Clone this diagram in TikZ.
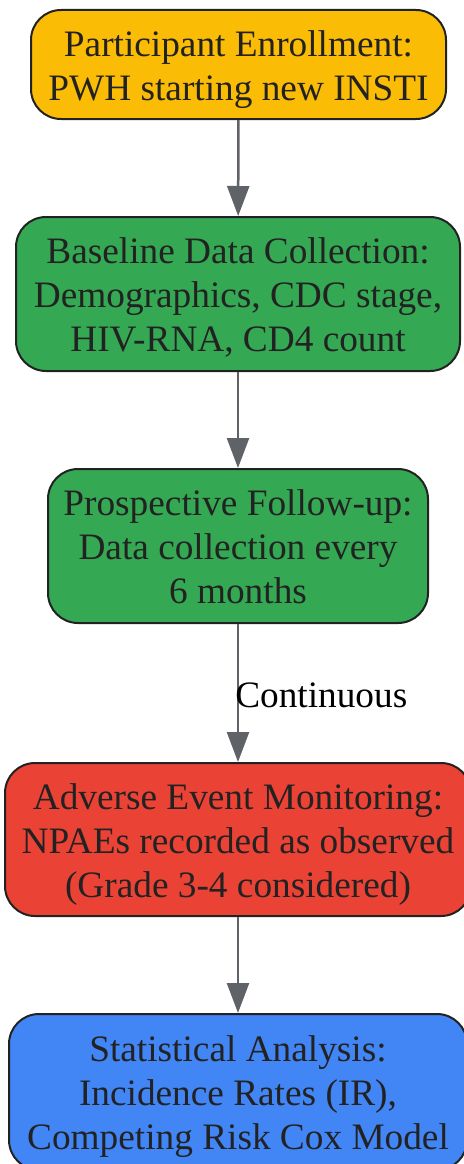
\documentclass[tikz,border=0pt]{standalone}
\usepackage{fontspec}
\setmainfont{Liberation Serif}
\usetikzlibrary{arrows.meta}
\definecolor{cyellow}{HTML}{FBBC05}
\definecolor{cgreen}{HTML}{34A853}
\definecolor{cred}{HTML}{EA4335}
\definecolor{cblue}{HTML}{4285F4}
\definecolor{cborder}{HTML}{222222}
\definecolor{ctext}{HTML}{222222}
\definecolor{carrow}{HTML}{5F6368}
\newcommand{\boxlines}[1]{\raisebox{-5pt}[\height][\depth]{\begin{tabular}{@{}c@{}}#1\end{tabular}}}
\tikzset{
  box/.style={draw=cborder, line width=2pt, rounded corners=30pt,
    text=ctext, font=\fontsize{37.3}{43.8}\selectfont, inner sep=0pt},
  flow/.style={draw=carrow, line width=2.5pt, -{Triangle[width=22pt,length=30pt]}},
  lbl/.style={font=\fontsize{37.3}{43.8}\selectfont, text=black, inner sep=0pt}
}
\begin{document}
\begin{tikzpicture}[x=1pt,y=-1pt]
\useasboundingbox (0,0) rectangle (463,1164);
\node[box, fill=cyellow, minimum width=415pt, minimum height=109pt] (n1) at (238.5,64.5)
  {\boxlines{Participant Enrollment:\\PWH starting new INSTI}};
\node[box, fill=cgreen, minimum width=444pt, minimum height=154pt] (n2) at (238,294)
  {\boxlines{Baseline Data Collection:\\Demographics, CDC stage,\\HIV-RNA, CD4 count}};
\node[box, fill=cgreen, minimum width=380pt, minimum height=154pt] (n3) at (238,546)
  {\boxlines{Prospective Follow-up:\\Data collection every\\6 months}};
\node[box, fill=cred, minimum width=466pt, minimum height=153pt] (n4) at (238,839.5)
  {\boxlines{Adverse Event Monitoring:\\NPAEs recorded as observed\\(Grade 3-4 considered)}};
\node[box, fill=cblue, minimum width=458pt, minimum height=156pt] (n5) at (238,1092)
  {\boxlines{Statistical Analysis:\\Incidence Rates (IR),\\Competing Risk Cox Model}};
\draw[flow] (n1) -- (n2);
\draw[flow] (n2) -- (n3);
\draw[flow] (n3) -- node[lbl, anchor=west, xshift=-4pt, yshift=-2pt] (l1) {Continuous} (n4);
\draw[flow] (n4) -- (n5);
\end{tikzpicture}
\end{document}
